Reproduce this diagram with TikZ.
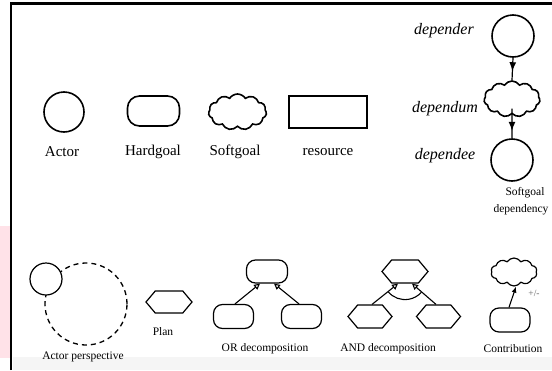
\documentclass[tikz,border=0pt]{standalone}
\usepackage{fontspec}
\setmainfont{Liberation Serif}
\usetikzlibrary{shapes.geometric,shapes.symbols,shapes.misc,arrows.meta,decorations.markings,calc}
\definecolor{pinkbg}{RGB}{255,226,232}
\begin{document}
\begin{tikzpicture}[x=1pt,y=1pt,
  actorc/.style={circle,draw,line width=1.6pt,minimum size=40pt,inner sep=0pt},
  hardg/.style={rectangle,rounded corners=12pt,draw,line width=1.6pt,inner sep=0pt},
  softg/.style={cloud,cloud puffs=11,cloud puff arc=115,aspect=1.6,draw,line width=1.6pt,inner sep=0pt},
  resbox/.style={rectangle,draw,line width=1.6pt,inner sep=0pt},
  hexa/.style={signal,signal to=east and west,signal pointer angle=100,draw,line width=1.2pt,inner sep=0pt,fill=white},
  smallrr/.style={rectangle,rounded corners=9pt,draw,line width=1.2pt,inner sep=0pt,minimum width=40pt,minimum height=24pt,fill=white},
  lbl/.style={font=\fontsize{15}{15}\selectfont,inner sep=0pt},
  slbl/.style={font=\fontsize{11.5}{11.5}\selectfont,inner sep=0pt},
  ilbl/.style={font=\fontsize{16}{16}\selectfont\itshape,inner sep=0pt},
  markarrow/.style={postaction={decorate},decoration={markings,mark=at position #1 with {\arrow{Latex[length=9pt,width=7pt]}}}},
  openarr/.style={line width=1.1pt,-{Triangle[open,length=6pt,width=6pt]}},
  fullarr/.style={line width=1.1pt,-{Latex[length=6pt,width=5pt]}},
]
\useasboundingbox (0,0) rectangle (552,-370);
% background bits
\fill[pinkbg] (0,-226) rectangle (9.5,-358);
\fill[black!4] (12.5,-357) rectangle (552,-370);
\draw[line width=2.5pt] (11,-370) -- (11,-3.5) -- (552,-3.5);

% top row
\node[actorc] (actor) at (64,-112) {};
\node[lbl] (lactor) at (62,-152) {Actor};
\node[hardg,minimum width=52pt,minimum height=30pt] (hard) at (153.5,-111) {};
\node[lbl] (lhard) at (153,-152) {Hardgoal};
\node[softg,minimum width=58pt,minimum height=36pt] (soft) at (237.5,-112) {};
\node[lbl] (lsoft) at (235,-152) {Softgoal};
\node[resbox,minimum width=78pt,minimum height=32pt] (res) at (328,-112) {};
\node[lbl] (lres) at (328,-152) {resource};

% softgoal dependency
\node[actorc,minimum size=42pt] (der) at (513,-36) {};
\node[ilbl] (lder) at (444,-31) {depender};
\node[softg,minimum width=56pt,minimum height=36pt] (dum) at (512,-99) {};
\node[ilbl] (ldum) at (445,-109) {dependum};
\node[actorc,minimum size=42pt] (dee) at (512,-160) {};
\node[ilbl] (ldee) at (445,-156) {dependee};
\node[slbl] (lsd1) at (525,-193) {Softgoal};
\node[slbl] (lsd2) at (521,-210) {dependency};
\draw[line width=1.2pt,markarrow=0.6] (der.south) -- (dum.north);
\draw[line width=1.2pt,markarrow=0.75] ($(dum.south)+(0,6)$) -- (dee.north);

% actor perspective
\draw[line width=1.3pt,dash pattern=on 5pt off 4pt] (86,-304) circle[radius=41];
\node[circle,draw,line width=1.2pt,minimum size=32pt,inner sep=0pt,fill=white] (ap) at (46,-279) {};
\node[slbl] (lap) at (83,-357) {Actor perspective};

% plan
\node[hexa,minimum width=46pt,minimum height=22pt] (plan) at (169,-302) {};
\node[slbl] (lplan) at (163,-332) {Plan};

% OR decomposition
\node[smallrr,minimum width=41pt,minimum height=23pt] (orT) at (267,-271.5) {};
\node[smallrr] (orL) at (233.5,-316.5) {};
\node[smallrr] (orR) at (301.5,-316.5) {};
\draw[openarr] ($(orL.north)+(1.5,0)$) -- ($(orT.south)+(-7,0)$);
\draw[openarr] ($(orR.north)+(-2.5,0)$) -- ($(orT.south)+(7,0)$);
\node[slbl] (lor) at (265,-349) {OR decomposition};

% AND decomposition
\node[hexa,minimum width=46pt,minimum height=23pt] (andT) at (405,-271.5) {};
\node[hexa,minimum width=44pt,minimum height=23pt] (andL) at (370,-316.5) {};
\node[hexa,minimum width=44pt,minimum height=23pt] (andR) at (438.5,-316.5) {};
\draw[openarr] ($(andL.north)+(2,0)$) -- ($(andT.south)+(-7,0)$);
\draw[openarr] ($(andR.north)+(-2.5,0)$) -- ($(andT.south)+(7,0)$);
\draw[line width=1.1pt] ($(andT.south)+(0,6)$) ++(220:22) arc[start angle=220,end angle=318,radius=22];
\node[slbl] (land) at (388,-349) {AND decomposition};

% contribution
\node[softg,line width=1.2pt,cloud puffs=10,minimum width=46pt,minimum height=28pt] (ctop) at (514,-272) {};
\node[smallrr] (cbot) at (510,-320) {};
\draw[fullarr] ($(cbot.north)+(-1,0)$) -- ($(ctop.south)+(2,0)$);
\node[font=\fontsize{9.5}{9.5}\selectfont,text=black!60,inner sep=0pt] (pm) at (534,-293) {+/-};
\node[slbl] (lcon) at (513,-349) {Contribution};
\end{tikzpicture}
\end{document}
